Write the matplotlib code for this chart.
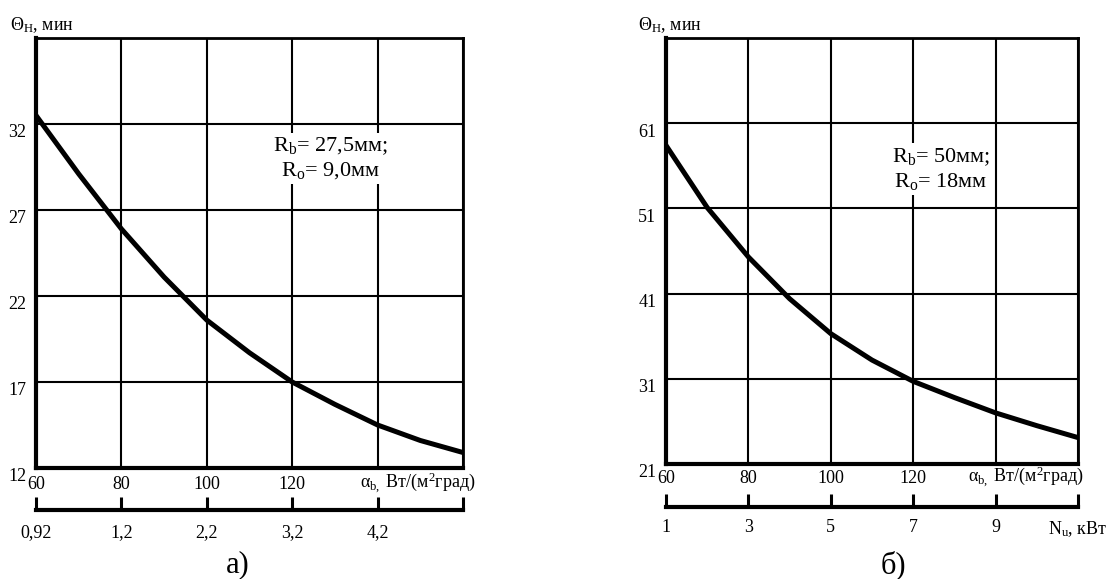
import numpy as np
import matplotlib
matplotlib.use("Agg")
import matplotlib.pyplot as plt
from matplotlib.transforms import ScaledTranslation

plt.rcParams['font.family'] = ['Liberation Serif', 'DejaVu Serif']
plt.rcParams['mathtext.fontset'] = 'custom'
plt.rcParams['mathtext.rm'] = 'Liberation Serif'
plt.rcParams['mathtext.it'] = 'Liberation Serif:italic'
plt.rcParams['mathtext.bf'] = 'Liberation Serif:bold'

# data
alpha = [60, 70, 80, 90, 100, 110, 120, 130, 140, 150, 160]
theta_a = [32.5, 29.1, 25.9, 23.1, 20.6, 18.7, 17.0, 15.7, 14.5, 13.6, 12.9]
theta_b = [58.4, 51.1, 45.3, 40.4, 36.3, 33.2, 30.7, 28.8, 27.0, 25.5, 24.1]

alpha_grid = [60, 80, 100, 120, 140, 160]
alpha_labels = ['60', '80', '100', '120', '', '']
yticks_a = [12, 17, 22, 27, 32, 37]
yticks_b = [21, 31, 41, 51, 61, 71]
q_labels = ['0,92', '1,2', '2,2', '3,2', '4,2', '']
n_labels = ['1', '3', '5', '7', '9', 'N$_{\\mathrm{u}}$, кВт']

W, H = 1111, 579
fig = plt.figure(figsize=(W / 100, H / 100), dpi=100)


def box(l, r, t, b):
    return [l / W, 1 - b / H, (r - l) / W, (b - t) / H]


def panel(rect, y, yticks, label_pad_x):
    ax = fig.add_axes(rect)
    ax.plot(alpha, y, color='black', lw=3.6, solid_joinstyle='round',
            solid_capstyle='butt', zorder=3)
    ax.set_xlim(60, 160)
    ax.set_ylim(yticks[0], yticks[-1])
    ax.set_xticks(alpha_grid)
    ax.set_xticklabels(alpha_labels)
    ax.set_yticks(yticks)
    ax.set_yticklabels([str(v) for v in yticks[:-1]] + [''])
    ax.tick_params(length=0, labelsize=13, colors='black')
    ax.tick_params(axis='x', pad=label_pad_x)
    ax.tick_params(axis='y', pad=7)
    for lbl in ax.get_yticklabels():
        lbl.set_transform(lbl.get_transform() + ScaledTranslation(0, -5 / 72, fig.dpi_scale_trans))
    ax.grid(True, color='black', lw=1.5)
    ax.set_axisbelow(True)
    for s in ['left', 'bottom']:
        ax.spines[s].set_linewidth(3.0)
    for s in ['top', 'right']:
        ax.spines[s].set_linewidth(2.0)
    return ax


def second_axis(l, r, y, labels, pad):
    ax2 = fig.add_axes([l / W, 1 - y / H, (r - l) / W, 0.0001])
    ax2.set_xlim(60, 160)
    ax2.set_yticks([])
    for s in ['left', 'right', 'top']:
        ax2.spines[s].set_visible(False)
    ax2.spines['bottom'].set_linewidth(3.0)
    ax2.set_xticks(alpha_grid)
    ax2.set_xticklabels(labels)
    ax2.tick_params(axis='x', direction='in', length=9.5, width=2.2, pad=pad,
                    labelsize=13, colors='black')
    ax2.patch.set_visible(False)
    return ax2


# panel a
ax_a = panel(box(36, 463, 38, 468), theta_a, yticks_a, 5.5)
second_axis(36, 463, 510, q_labels, 10)
ax_a.text(128.9, 30.0, 'R$_{\\mathrm{b}}$= 27,5мм;\nR$_{\\mathrm{o}}$= 9,0мм',
          ha='center', va='center', multialignment='center', fontsize=16,
          linespacing=1.2, zorder=4,
          bbox=dict(facecolor='white', edgecolor='none', pad=2))
fig.text(10 / W, 1 - 25 / H, 'Θ$_{\\mathrm{Н}}$, мин', ha='left', va='center', fontsize=13)
fig.text(360 / W, 1 - 483 / H, 'α$_{\\mathrm{b,}}$ Вт/(м$^{2}$град)', ha='left', va='center', fontsize=13)
fig.text(238 / W, 1 - 565 / H, 'а)', ha='center', va='center', fontsize=22)

# panel b
ax_b = panel(box(666, 1078, 38, 464), theta_b, yticks_b, 4)
second_axis(666, 1078, 507, n_labels, 9)
ax_b.text(126.7, 55.6, 'R$_{\\mathrm{b}}$= 50мм;\nR$_{\\mathrm{o}}$= 18мм',
          ha='center', va='center', multialignment='center', fontsize=16,
          linespacing=1.2, zorder=4,
          bbox=dict(facecolor='white', edgecolor='none', pad=2))
fig.text(638 / W, 1 - 25 / H, 'Θ$_{\\mathrm{Н}}$, мин', ha='left', va='center', fontsize=13)
fig.text(968 / W, 1 - 477 / H, 'α$_{\\mathrm{b,}}$ Вт/(м$^{2}$град)', ha='left', va='center', fontsize=13)
fig.text(893 / W, 1 - 565 / H, 'б)', ha='center', va='center', fontsize=22)

fig.savefig('out.png', dpi=100, facecolor='white')
